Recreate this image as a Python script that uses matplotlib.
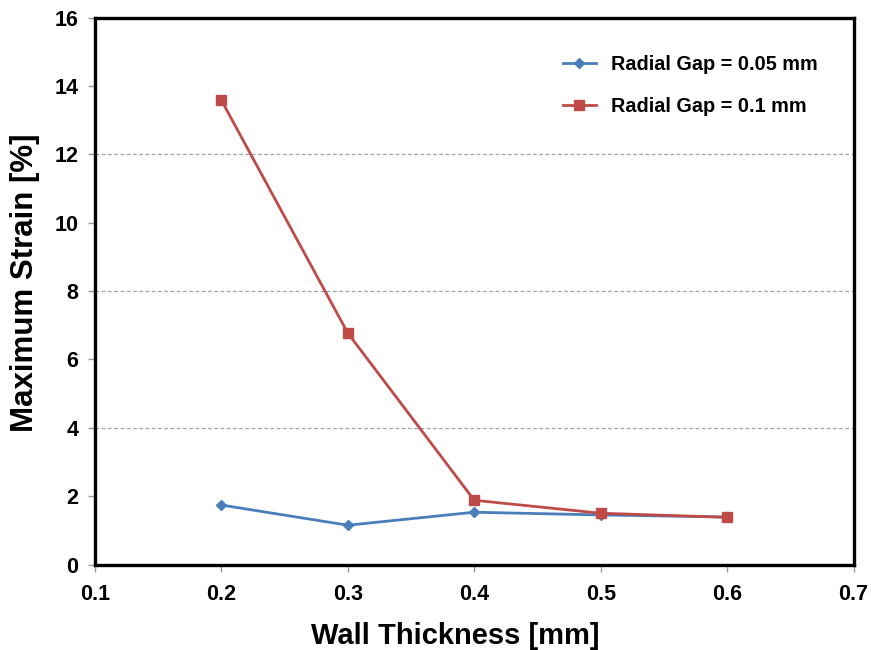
import matplotlib
matplotlib.use("Agg")
import matplotlib.pyplot as plt

plt.rcParams['font.family'] = ['Liberation Sans', 'DejaVu Sans']

wall_thickness = [0.2, 0.3, 0.4, 0.5, 0.6]
strain_gap_005 = [1.74, 1.15, 1.53, 1.45, 1.39]
strain_gap_01 = [13.58, 6.77, 1.88, 1.50, 1.38]

x_ticks = [0.1, 0.2, 0.3, 0.4, 0.5, 0.6, 0.7]
y_ticks = [0, 2, 4, 6, 8, 10, 12, 14, 16]
grid_levels = [4, 8, 12]

fig = plt.figure(figsize=(8.71, 6.5), dpi=100)
ax = fig.add_axes([0.109, 0.1315, 0.871, 0.8415])

for g in grid_levels:
    ax.axhline(g, color='#97a3b3', lw=0.9, ls=(0, (3, 2)), zorder=0)

ax.plot(wall_thickness, strain_gap_005, color='#4a7ebb', lw=2, marker='D',
        markersize=5.5, label='Radial Gap = 0.05 mm', zorder=3)
ax.plot(wall_thickness, strain_gap_01, color='#be4b48', lw=2, marker='s',
        markersize=7.5, label='Radial Gap = 0.1 mm', zorder=4)

ax.set_xlim(0.1, 0.7)
ax.set_ylim(0, 16)
ax.set_xticks(x_ticks)
ax.set_yticks(y_ticks)
ax.set_xticklabels([f'{v:.1f}' for v in x_ticks])
ax.set_yticklabels([str(v) for v in y_ticks])

for s in ax.spines.values():
    s.set_linewidth(2.4)
    s.set_color('black')

ax.tick_params(axis='both', direction='out', length=5, width=1, color='#999999',
               labelsize=15.5, pad=7)
for lab in ax.get_xticklabels() + ax.get_yticklabels():
    lab.set_fontweight('bold')
ax.tick_params(axis='x', pad=9)

ax.set_xlabel('Wall Thickness [mm]', fontsize=21, fontweight='bold')
ax.set_ylabel('Maximum Strain [%]', fontsize=22.5, fontweight='bold')
ax.xaxis.set_label_coords(0.475, -0.105)
ax.yaxis.set_label_coords(-0.072, 0.516)

leg = fig.legend(loc='upper left', bbox_to_anchor=(563 / 871, 1 - 55 / 650),
                 frameon=False, prop={'weight': 'bold', 'size': 14.3},
                 handlelength=1.65, labelspacing=1.15, handletextpad=0.75,
                 borderpad=0, borderaxespad=0)

fig.savefig('out.png', dpi=100)
